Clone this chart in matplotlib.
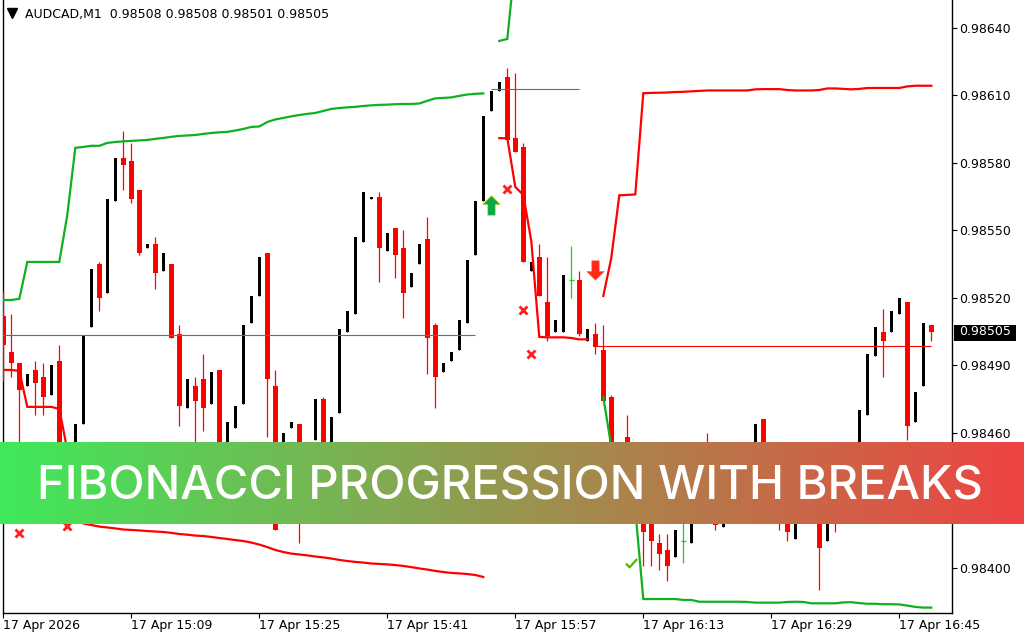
import numpy as np
import matplotlib
matplotlib.use("Agg")
import matplotlib.pyplot as plt
from matplotlib.path import Path
from matplotlib.lines import Line2D
from matplotlib.patches import Rectangle

W, H = 1024, 640

SYMBOL = "AUDCAD,M1"
LAST_OHLC = [0.98508, 0.98508, 0.98501, 0.98505]
LAST_PRICE = 0.98505
TITLE = "FIBONACCI PROGRESSION WITH BREAKS"

TIME_TICKS = [0, 16, 32, 48, 64, 80, 96, 112]
TIME_LABELS = ["17 Apr 2026", "17 Apr 15:09", "17 Apr 15:25", "17 Apr 15:41",
               "17 Apr 15:57", "17 Apr 16:13", "17 Apr 16:29", "17 Apr 16:45"]
PRICE_TICKS = [0.98400, 0.98460, 0.98490, 0.98520,
               0.98550, 0.98580, 0.98610, 0.98640]

# M1 bars, 14:53 .. 16:49
opens = [
    0.98512, 0.98496, 0.98491, 0.98481, 0.98488, 0.98485, 0.98477, 0.98492, 0.98437, 0.98440,
    0.98464, 0.98507, 0.98535, 0.98522, 0.98563, 0.98582, 0.98581, 0.98568, 0.98542, 0.98544,
    0.98532, 0.98535, 0.98504, 0.98471, 0.98481, 0.98484, 0.98473, 0.98488, 0.98450, 0.98462,
    0.98473, 0.98509, 0.98521, 0.98540, 0.98481, 0.98445, 0.98462, 0.98464, 0.98440, 0.98457,
    0.98475, 0.98448, 0.98469, 0.98505, 0.98513, 0.98545, 0.98564, 0.98565, 0.98541, 0.98551,
    0.98542, 0.98525, 0.98535, 0.98546, 0.98508, 0.98487, 0.98492, 0.98497, 0.98509, 0.98539,
    0.98563, 0.98603, 0.98612, 0.98618, 0.98591, 0.98587, 0.98532, 0.98538, 0.98518, 0.98505,
    0.98505, 0.98528, 0.98528, 0.98501, 0.98504, 0.98497, 0.98476, 0.98448, 0.98458, 0.98425,
    0.98440, 0.98436, 0.98411, 0.98408, 0.98405, 0.98412, 0.98411, 0.98430, 0.98455, 0.98435,
    0.98418, 0.98428, 0.98445, 0.98432, 0.98440, 0.98466, 0.98428, 0.98432, 0.98430, 0.98413,
    0.98425, 0.98445, 0.98440, 0.98412, 0.98432, 0.98428, 0.98438, 0.98450, 0.98468, 0.98494,
    0.98505, 0.98505, 0.98513, 0.98518, 0.98465, 0.98481, 0.98508,
]
highs = [
    0.98523, 0.98513, 0.98491, 0.98486, 0.98492, 0.98491, 0.98490, 0.98499, 0.98450, 0.98464,
    0.98503, 0.98533, 0.98536, 0.98564, 0.98582, 0.98594, 0.98589, 0.98568, 0.98544, 0.98547,
    0.98540, 0.98535, 0.98508, 0.98484, 0.98485, 0.98495, 0.98487, 0.98488, 0.98465, 0.98472,
    0.98508, 0.98521, 0.98538, 0.98540, 0.98488, 0.98460, 0.98465, 0.98464, 0.98452, 0.98475,
    0.98476, 0.98467, 0.98506, 0.98514, 0.98547, 0.98567, 0.98565, 0.98567, 0.98549, 0.98551,
    0.98550, 0.98531, 0.98544, 0.98556, 0.98509, 0.98491, 0.98496, 0.98510, 0.98537, 0.98563,
    0.98601, 0.98612, 0.98616, 0.98622, 0.98620, 0.98589, 0.98536, 0.98544, 0.98538, 0.98510,
    0.98530, 0.98543, 0.98532, 0.98506, 0.98509, 0.98508, 0.98477, 0.98452, 0.98468, 0.98445,
    0.98445, 0.98440, 0.98415, 0.98415, 0.98417, 0.98430, 0.98432, 0.98445, 0.98460, 0.98440,
    0.98432, 0.98440, 0.98447, 0.98448, 0.98464, 0.98466, 0.98440, 0.98435, 0.98436, 0.98428,
    0.98440, 0.98447, 0.98443, 0.98432, 0.98435, 0.98442, 0.98452, 0.98470, 0.98495, 0.98507,
    0.98515, 0.98514, 0.98520, 0.98518, 0.98478, 0.98509, 0.98508,
]
lows = [
    0.98483, 0.98485, 0.98444, 0.98481, 0.98468, 0.98468, 0.98477, 0.98435, 0.98437, 0.98440,
    0.98464, 0.98507, 0.98514, 0.98522, 0.98563, 0.98568, 0.98562, 0.98539, 0.98542, 0.98524,
    0.98532, 0.98502, 0.98463, 0.98471, 0.98450, 0.98461, 0.98473, 0.98438, 0.98450, 0.98462,
    0.98473, 0.98509, 0.98521, 0.98458, 0.98417, 0.98445, 0.98462, 0.98411, 0.98440, 0.98457,
    0.98440, 0.98448, 0.98469, 0.98505, 0.98513, 0.98545, 0.98564, 0.98527, 0.98541, 0.98529,
    0.98511, 0.98525, 0.98535, 0.98486, 0.98471, 0.98487, 0.98492, 0.98497, 0.98509, 0.98539,
    0.98563, 0.98603, 0.98612, 0.98590, 0.98585, 0.98536, 0.98532, 0.98521, 0.98501, 0.98505,
    0.98505, 0.98520, 0.98503, 0.98501, 0.98495, 0.98474, 0.98440, 0.98428, 0.98425, 0.98425,
    0.98401, 0.98401, 0.98399, 0.98394, 0.98405, 0.98402, 0.98411, 0.98430, 0.98428, 0.98417,
    0.98418, 0.98428, 0.98428, 0.98432, 0.98440, 0.98430, 0.98428, 0.98417, 0.98412, 0.98413,
    0.98425, 0.98428, 0.98390, 0.98412, 0.98416, 0.98428, 0.98438, 0.98450, 0.98468, 0.98494,
    0.98485, 0.98505, 0.98513, 0.98457, 0.98465, 0.98481, 0.98501,
]
closes = [
    0.98499, 0.98491, 0.98479, 0.98486, 0.98482, 0.98476, 0.98490, 0.98439, 0.98450, 0.98464,
    0.98503, 0.98533, 0.98520, 0.98564, 0.98582, 0.98579, 0.98564, 0.98540, 0.98544, 0.98531,
    0.98540, 0.98502, 0.98472, 0.98484, 0.98474, 0.98471, 0.98487, 0.98440, 0.98465, 0.98472,
    0.98508, 0.98521, 0.98538, 0.98484, 0.98417, 0.98460, 0.98465, 0.98430, 0.98452, 0.98475,
    0.98445, 0.98467, 0.98506, 0.98514, 0.98547, 0.98567, 0.98565, 0.98542, 0.98549, 0.98539,
    0.98522, 0.98531, 0.98544, 0.98502, 0.98485, 0.98491, 0.98496, 0.98510, 0.98537, 0.98563,
    0.98601, 0.98612, 0.98616, 0.98590, 0.98585, 0.98536, 0.98536, 0.98521, 0.98503, 0.98510,
    0.98530, 0.98528, 0.98504, 0.98506, 0.98498, 0.98474, 0.98445, 0.98432, 0.98430, 0.98445,
    0.98416, 0.98412, 0.98406, 0.98401, 0.98417, 0.98412, 0.98432, 0.98445, 0.98430, 0.98419,
    0.98432, 0.98440, 0.98430, 0.98448, 0.98464, 0.98435, 0.98440, 0.98422, 0.98416, 0.98428,
    0.98440, 0.98430, 0.98409, 0.98432, 0.98422, 0.98442, 0.98452, 0.98470, 0.98495, 0.98507,
    0.98501, 0.98514, 0.98520, 0.98463, 0.98478, 0.98509, 0.98505,
]

# indicator buffers: (first bar index, values)
upper_green_a = (0, [
    0.985191, 0.985191, 0.985196, 0.985360, 0.985360, 0.985360, 0.985360, 0.985360, 0.985569, 0.985867,
    0.985871, 0.985876, 0.985876, 0.985889, 0.985893, 0.985896, 0.985898, 0.985900, 0.985902, 0.985907,
    0.985911, 0.985916, 0.985920, 0.985922, 0.985924, 0.985929, 0.985933, 0.985936, 0.985938, 0.985944,
    0.985951, 0.985960, 0.985962, 0.985982, 0.985993, 0.986000, 0.986007, 0.986013, 0.986018, 0.986022,
    0.986031, 0.986040, 0.986044, 0.986047, 0.986049, 0.986053, 0.986056, 0.986058, 0.986059, 0.986061,
    0.986062, 0.986062, 0.986064, 0.986076, 0.986087, 0.986089, 0.986091, 0.986098, 0.986104, 0.986107,
    0.986109,
])
upper_green_b = (62, [0.986342, 0.986351, 0.986700])
lower_red_a = (0, [
    0.984880, 0.984880, 0.984876, 0.984716, 0.984716, 0.984716, 0.984716, 0.984707, 0.984524, 0.984236,
    0.984198, 0.984191, 0.984184, 0.984180, 0.984176, 0.984171, 0.984169, 0.984167, 0.984164, 0.984162,
    0.984160, 0.984156, 0.984151, 0.984148, 0.984144, 0.984142, 0.984138, 0.984133, 0.984129, 0.984124,
    0.984120, 0.984113, 0.984104, 0.984093, 0.984080, 0.984071, 0.984064, 0.984060, 0.984056, 0.984051,
    0.984047, 0.984042, 0.984036, 0.984031, 0.984027, 0.984024, 0.984020, 0.984018, 0.984016, 0.984013,
    0.984009, 0.984004, 0.983998, 0.983993, 0.983987, 0.983982, 0.983978, 0.983976, 0.983973, 0.983969,
    0.983960,
])
trail_red = (62, [
    0.985910, 0.985910, 0.985693, 0.985658, 0.985453, 0.985027, 0.985025, 0.985025, 0.985025, 0.985022,
    0.985016, 0.985016,
])
upper_red = (75, [
    0.985209, 0.985378, 0.985656, 0.985658, 0.985660, 0.986110, 0.986111, 0.986112, 0.986113, 0.986115,
    0.986116, 0.986118, 0.986120, 0.986122, 0.986122, 0.986122, 0.986122, 0.986122, 0.986122, 0.986127,
    0.986128, 0.986128, 0.986128, 0.986124, 0.986122, 0.986122, 0.986122, 0.986124, 0.986131, 0.986131,
    0.986129, 0.986127, 0.986129, 0.986133, 0.986133, 0.986133, 0.986133, 0.986133, 0.986140, 0.986143,
    0.986143, 0.986143,
])
lower_green = (75, [
    0.984760, 0.984538, 0.984436, 0.984324, 0.984258, 0.983862, 0.983862, 0.983862, 0.983862, 0.983862,
    0.983858, 0.983858, 0.983850, 0.983850, 0.983850, 0.983850, 0.983850, 0.983850, 0.983849, 0.983846,
    0.983846, 0.983846, 0.983846, 0.983849, 0.983850, 0.983849, 0.983843, 0.983843, 0.983843, 0.983843,
    0.983847, 0.983848, 0.983844, 0.983841, 0.983841, 0.983839, 0.983839, 0.983838, 0.983833, 0.983827,
    0.983824, 0.983824,
])

# break levels: (price, from bar, to bar)
green_levels = [(0.985036, -0.1, 59), (0.986128, 61, 72)]
red_levels = [(0.984987, 74.2, 116)]

# signals
cross_bars = [2, 8, 63, 65, 66]
cross_prices = [0.984156, 0.984187, 0.985682, 0.985147, 0.984951]
buy_arrow = (61, 0.985611)
sell_arrow = (74, 0.985324)
check_mark = (78.5, 0.984022)

BULL = "black"
BEAR = "#ff0000"
DOJI = "#00e000"
LINE_GREEN = "#10b020"
LINE_RED = "#ff0000"

fig = plt.figure(figsize=(W / 100, H / 100), dpi=100, facecolor="white")
ax = fig.add_axes([2.7 / W, (H - 613) / H, (952.3 - 2.7) / W, 613 / H])
ax.set_xlim(-0.075, 118.625)
ax.set_ylim(0.98380, 0.986524)

# candles
for i, (o, h, l, c) in enumerate(zip(opens, highs, lows, closes)):
    if np.isclose(o, c):
        ax.vlines(i, l, h, color=DOJI, lw=0.9, zorder=3)
        ax.hlines(o, i - 0.3, i + 0.3, color=DOJI, lw=0.9, zorder=3)
    elif c > o:
        ax.vlines(i, l, h, color=BULL, lw=0.9, zorder=3)
        ax.bar(i, c - o, bottom=o, width=0.375, color=BULL, lw=0, zorder=3)
    else:
        ax.vlines(i, l, h, color=BEAR, lw=0.9, zorder=3)
        ax.bar(i, o - c, bottom=c, width=0.625, color=BEAR, lw=0, zorder=3)

# indicator lines
for (start, vals), col in [(upper_green_a, LINE_GREEN), (upper_green_b, LINE_GREEN),
                           (lower_red_a, LINE_RED), (trail_red, LINE_RED),
                           (upper_red, LINE_RED), (lower_green, LINE_GREEN)]:
    xs = np.arange(start, start + len(vals))
    ax.plot(xs, vals, color=col, lw=1.6, zorder=4, solid_joinstyle="miter")

for y, x0, x1 in green_levels:
    ax.hlines(y, x0, x1, color="#20a020", lw=0.8, zorder=4)
for y, x0, x1 in red_levels:
    ax.hlines(y, x0, x1, color=LINE_RED, lw=0.8, zorder=4)

# signal marks
ax.plot(cross_bars, cross_prices, "x", color="#ff2020", ms=5.5, mew=2, zorder=5)
up_path = Path([(0, 1), (0.9, 0.1), (0.38, 0.1), (0.38, -1), (-0.38, -1),
                (-0.38, 0.1), (-0.9, 0.1), (0, 1)], closed=True)
down_path = Path([(x, -y) for x, y in up_path.vertices], closed=True)
check_path = Path([(-1, 0.0), (-0.35, -0.7), (1, 0.8)],
                  [Path.MOVETO, Path.LINETO, Path.LINETO])
ax.plot(*buy_arrow, marker=up_path, ms=14, color="#0da845", mec="#b8d400", mew=0.4, zorder=5)
ax.plot(*sell_arrow, marker=down_path, ms=14, color="#ff2a1a", mec="#ff6a3a", mew=0.4, zorder=5)
ax.plot(*check_mark, marker=check_path, ms=8, mfc="none", mec="#4cb800", mew=1.6, zorder=5)

# axes styling
for side in ["left", "right", "bottom"]:
    ax.spines[side].set_color("black")
    ax.spines[side].set_linewidth(1.0)
ax.spines["top"].set_visible(False)
ax.yaxis.tick_right()
ax.set_yticks(PRICE_TICKS)
ax.set_yticklabels([f"{p:.5f}" for p in PRICE_TICKS])
ax.set_xticks(TIME_TICKS)
ax.set_xticklabels(TIME_LABELS, ha="left")
ax.tick_params(axis="y", direction="out", length=3.6, width=0.8, pad=1.5,
               labelsize=9, colors="black")
ax.tick_params(axis="x", direction="out", length=3.6, width=0.8, pad=1,
               labelsize=9, colors="black")
ax.set_facecolor("white")

# last price tag on the price scale
fig.add_artist(Rectangle((954 / W, (H - 341) / H), 62 / W, 16 / H,
                         transform=fig.transFigure, fc="black", ec="none", zorder=3))
price_y = ax.transData.transform((0, LAST_PRICE))[1] / H
fig.text(959 / W, price_y, f"{LAST_PRICE:.5f}", color="white", fontsize=9,
         ha="left", va="center", zorder=4)

# header
fig.add_artist(Line2D([11.5 / W], [1 - 12.5 / H], marker="v", ms=6.5, color="black",
                      transform=fig.transFigure))
header = f"{SYMBOL}  " + " ".join(f"{v:.5f}" for v in LAST_OHLC)
fig.text(25 / W, 1 - 18.3 / H, header, fontsize=9, color="black", va="baseline")

# title banner
band = fig.add_axes([0, (H - 524) / H, 1, 82 / H], zorder=10)
left_rgb = np.array([63, 233, 90]) / 255
right_rgb = np.array([239, 67, 67]) / 255
t = np.linspace(0, 1, 512)[None, :, None]
grad = left_rgb[None, None, :] * (1 - t) + right_rgb[None, None, :] * t
band.imshow(grad, aspect="auto", extent=[0, 1, 0, 1], interpolation="bilinear")
band.set_xlim(0, 1)
band.set_ylim(0, 1)
band.axis("off")
band.text(0.4976, 0.31, TITLE, color="white", fontsize=34, family="Inter",
          fontweight="medium", ha="center", va="baseline")

fig.savefig("out.png", dpi=100, facecolor="white")
